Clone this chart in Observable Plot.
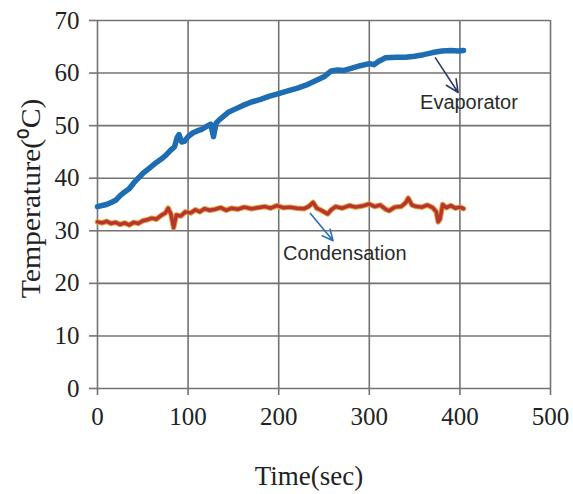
<!DOCTYPE html>
<html>
<head>
<meta charset="utf-8">
<script src="https://cdn.jsdelivr.net/npm/d3@7"></script>
<script src="https://cdn.jsdelivr.net/npm/@observablehq/plot@0.6"></script>
<style>
  html, body { margin: 0; padding: 0; background: #fff; }
  #chart svg { display: block; }
</style>
</head>
<body>
<div id="chart"></div>
<script>
// Evaporator temperature readings (°C) against time (s)
const evapTime = [0, 5, 10, 15, 20, 25, 30, 35, 40, 45, 50, 55, 60, 65, 70, 75, 80, 85, 88, 90, 93, 96,
  100, 105, 110, 115, 120, 125, 128, 131, 135, 140, 145, 150, 160, 170, 180, 190, 200, 210, 220, 230,
  240, 250, 258, 265, 272, 280, 290, 300, 305, 310, 318, 330, 340, 350, 360, 370, 380, 390, 398, 404];
const evapTemp = [34.6, 34.8, 35.0, 35.4, 35.8, 36.7, 37.4, 38.0, 39.1, 40.0, 40.9, 41.6, 42.3, 43.0, 43.6, 44.3, 45.2, 46.0, 47.8, 48.3, 46.9, 47.0,
  47.9, 48.6, 49.0, 49.3, 49.8, 50.3, 47.9, 50.5, 51.2, 51.9, 52.6, 53.0, 53.8, 54.5, 55.0, 55.6, 56.1, 56.6, 57.1, 57.7,
  58.5, 59.3, 60.4, 60.6, 60.5, 60.9, 61.4, 61.8, 61.6, 62.2, 62.9, 63.0, 63.0, 63.2, 63.5, 63.9, 64.2, 64.3, 64.2, 64.3];

// Condensation temperature readings (°C) against time (s)
const condTime = [0, 5, 10, 15, 20, 25, 30, 35, 40, 45, 50, 55, 60, 65, 70, 75, 78, 81, 84, 87, 92, 97,
  103, 108, 113, 118, 124, 130, 136, 142, 148, 155, 162, 170, 177, 185, 191, 198, 205, 212, 220, 228,
  233, 238, 242, 247, 251, 254, 258, 263, 270, 278, 285, 292, 300, 306, 312, 318, 322, 328, 335, 340,
  343, 347, 352, 358, 364, 370, 374, 376, 378, 381, 385, 390, 395, 400, 404];
const condTemp = [31.7, 31.5, 31.8, 31.4, 31.6, 31.2, 31.5, 31.1, 31.6, 31.4, 31.9, 32.1, 32.4, 32.2, 32.9, 33.4, 34.3, 33.2, 30.6, 33.0, 32.8, 33.6,
  33.4, 34.0, 33.6, 34.2, 33.9, 34.1, 34.4, 33.9, 34.3, 34.1, 34.5, 34.2, 34.4, 34.6, 34.3, 34.8, 34.4, 34.5, 34.3, 34.2,
  34.6, 35.4, 34.3, 33.9, 33.5, 33.2, 34.0, 34.6, 34.3, 34.8, 34.5, 34.7, 35.1, 34.6, 34.9, 34.1, 33.8, 34.5, 34.6, 35.3,
  36.2, 34.9, 34.6, 34.5, 34.9, 34.4, 33.6, 31.7, 32.2, 35.0, 34.4, 34.8, 34.3, 34.5, 34.2];

const xTicks = [0, 100, 200, 300, 400, 500];
const yTicks = [0, 10, 20, 30, 40, 50, 60, 70];

// Callout labels and the arrows pointing from each curve to its label
const calloutNames = ["Evaporator", "Condensation"];
const calloutAt = [[410, 54.4], [273, 25.7]];
const arrowFrom = [[373, 62.9], [235, 33.3]];
const arrowTo = [[398, 56.3], [260, 28.1]];
const arrowColors = ["#2c3b66", "#2a6fbd"];

const evap = evapTime.map((t, i) => ({t, v: evapTemp[i]}));
const cond = condTime.map((t, i) => ({t, v: condTemp[i]}));
const callouts = calloutNames.map((name, i) => ({
  name, x: calloutAt[i][0], y: calloutAt[i][1],
  x1: arrowFrom[i][0], y1: arrowFrom[i][1], x2: arrowTo[i][0], y2: arrowTo[i][1], color: arrowColors[i]
}));

const gridColor = "#737373";

const chart = Plot.plot({
  width: 573,
  height: 494,
  marginLeft: 97,
  marginRight: 23,
  marginTop: 20,
  marginBottom: 106,
  style: {fontFamily: "'Liberation Serif', 'Times New Roman', serif", fontSize: "25px", background: "#fff", color: "#222"},
  x: {domain: [0, 500]},
  y: {domain: [0, 70]},
  marks: [
    Plot.gridX(xTicks, {stroke: gridColor, strokeOpacity: 1, strokeWidth: 1.6}),
    Plot.gridY(yTicks, {stroke: gridColor, strokeOpacity: 1, strokeWidth: 1.6}),
    Plot.axisX({ticks: xTicks, tickSize: 7, tickPadding: 12, stroke: gridColor, strokeWidth: 1.6, label: null, fontSize: 25}),
    Plot.axisY({ticks: yTicks, tickSize: 8, tickPadding: 10, stroke: gridColor, strokeWidth: 1.6, label: null, fontSize: 25}),
    Plot.line(evap, {x: "t", y: "v", stroke: "#1e6db3", strokeWidth: 5.5}),
    Plot.line(cond, {x: "t", y: "v", stroke: "#e8a03a", strokeWidth: 5.5}),
    Plot.line(cond, {x: "t", y: "v", stroke: "#b5352f", strokeWidth: 3.5}),
    Plot.arrow(callouts, {x1: "x1", y1: "y1", x2: "x2", y2: "y2", stroke: "color", strokeWidth: 1.6, headLength: 14, headAngle: 50}),
    Plot.text(callouts, {x: "x", y: "y", text: "name", fontFamily: "'Liberation Sans', Arial, sans-serif", fontSize: 20, fill: "#2a2a2a"}),
    Plot.text(["Temperature(\u2070C)"], {frameAnchor: "left", textAnchor: "middle", dx: -66, dy: -6, rotate: -90, fontSize: 27, fill: "#222"}),
    Plot.text(["Time(sec)"], {frameAnchor: "bottom", textAnchor: "middle", dx: -15, dy: 96, fontSize: 27, fill: "#222"})
  ]
});

// The y-axis title is set slightly elongated along its length
d3.select(chart).selectAll("text")
  .filter(function () { return this.textContent === "Temperature(\u2070C)"; })
  .attr("transform", function () { return (this.getAttribute("transform") || "") + " scale(1.1,1)"; });

document.getElementById("chart").appendChild(chart);
</script>
</body>
</html>
